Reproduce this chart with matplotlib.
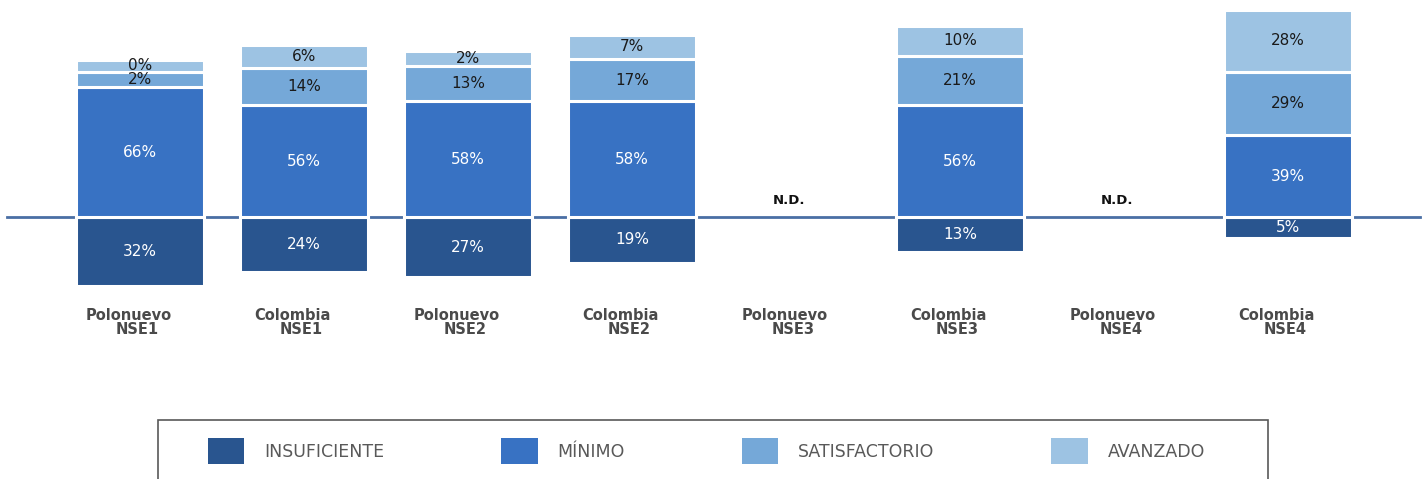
import numpy as np
import matplotlib.pyplot as plt
from matplotlib.patches import Patch, Rectangle

# chart data (NaN = N.D.)
groups = ['Polonuevo', 'Colombia', 'Polonuevo', 'Colombia',
          'Polonuevo', 'Colombia', 'Polonuevo', 'Colombia']
levels = ['NSE1', 'NSE1', 'NSE2', 'NSE2', 'NSE3', 'NSE3', 'NSE4', 'NSE4']
insuficiente = np.array([32, 24, 27, 19, np.nan, 13, np.nan, 5])
minimo = np.array([66, 56, 58, 58, np.nan, 56, np.nan, 39])
satisfactorio = np.array([2, 14, 13, 17, np.nan, 21, np.nan, 29])
avanzado = np.array([0, 6, 2, 7, np.nan, 10, np.nan, 28])

C_INS = '#29558f'
C_MIN = '#3872c3'
C_SAT = '#75a8d8'
C_AVA = '#9dc3e3'

PAD = 6.7      # every segment in the original gets a fixed extra height
WIDTH = 0.775
PX = 1.786     # pixels per unit

fig = plt.figure(figsize=(14.26, 4.79), dpi=100)
ax = fig.add_axes([0, 179 / 479, 1, 300 / 479])
ax.set_xlim(-140 / 164, 1286 / 164)
ax.set_ylim(-83 / PX, 217 / PX)
ax.axis('off')

x = np.arange(len(groups))
ok = ~np.isnan(minimo)
xa = x[ok]

bar_kw = dict(width=WIDTH, edgecolor='white', linewidth=2.2, zorder=2)
txt_kw = dict(ha='center', va='center', fontsize=11, zorder=3)

# negative side
h = insuficiente[ok] + PAD
ax.bar(xa, -h, color=C_INS, **bar_kw)
for xi, hh, v in zip(xa, h, insuficiente[ok]):
    ax.text(xi, -hh / 2, f'{v:.0f}%', color='white', **txt_kw)

# positive stack
bottom = np.zeros(ok.sum())
for vals, color, tc in [(minimo, C_MIN, 'white'),
                        (satisfactorio, C_SAT, '#1a1a1a'),
                        (avanzado, C_AVA, '#1a1a1a')]:
    h = vals[ok] + PAD
    ax.bar(xa, h, bottom=bottom, color=color, **bar_kw)
    for xi, b, hh, v in zip(xa, bottom, h, vals[ok]):
        ax.text(xi, b + hh / 2, f'{v:.0f}%', color=tc, **txt_kw)
    bottom += h

# N.D. markers
for xi in x[~ok]:
    ax.text(xi - 0.04, 16 / PX, 'N.D.', ha='center', va='center',
            fontsize=9.5, fontweight='bold', color='#111111')

ax.axhline(0, xmin=7 / 1426, xmax=1420 / 1426, color='#4a6fa5', lw=2, zorder=1)

# category labels
for xi, g, lv in zip(x, groups, levels):
    ax.text(xi - 0.07, -98 / PX, g, ha='center', va='center', fontsize=10.5,
            fontweight='bold', color='#4a4a4a', clip_on=False)
    ax.text(xi - 0.02, -112 / PX, lv, ha='center', va='center', fontsize=10.5,
            fontweight='bold', color='#4a4a4a', clip_on=False)

# legend
handles = [Patch(facecolor=c) for c in (C_INS, C_MIN, C_SAT, C_AVA)]
names = ['INSUFICIENTE', 'MÍNIMO', 'SATISFACTORIO', 'AVANZADO']
leg = fig.legend(handles, names, loc='center', ncol=4, mode='expand',
                 bbox_to_anchor=(208 / 1426, (479 - 464) / 479,
                                 (1205 - 208) / 1426, 26 / 479),
                 frameon=False, fontsize=12.5, handlelength=2.1, handleheight=1.9,
                 handletextpad=1.15, borderpad=0, borderaxespad=0)
for t in leg.get_texts():
    t.set_color('#595959')

fig.add_artist(Rectangle((158 / 1426, -0.05), (1268 - 158) / 1426,
                         (479 - 420) / 479 + 0.05, transform=fig.transFigure,
                         fill=False, edgecolor='#595959', lw=1.2))

fig.savefig('out.png', dpi=100)
